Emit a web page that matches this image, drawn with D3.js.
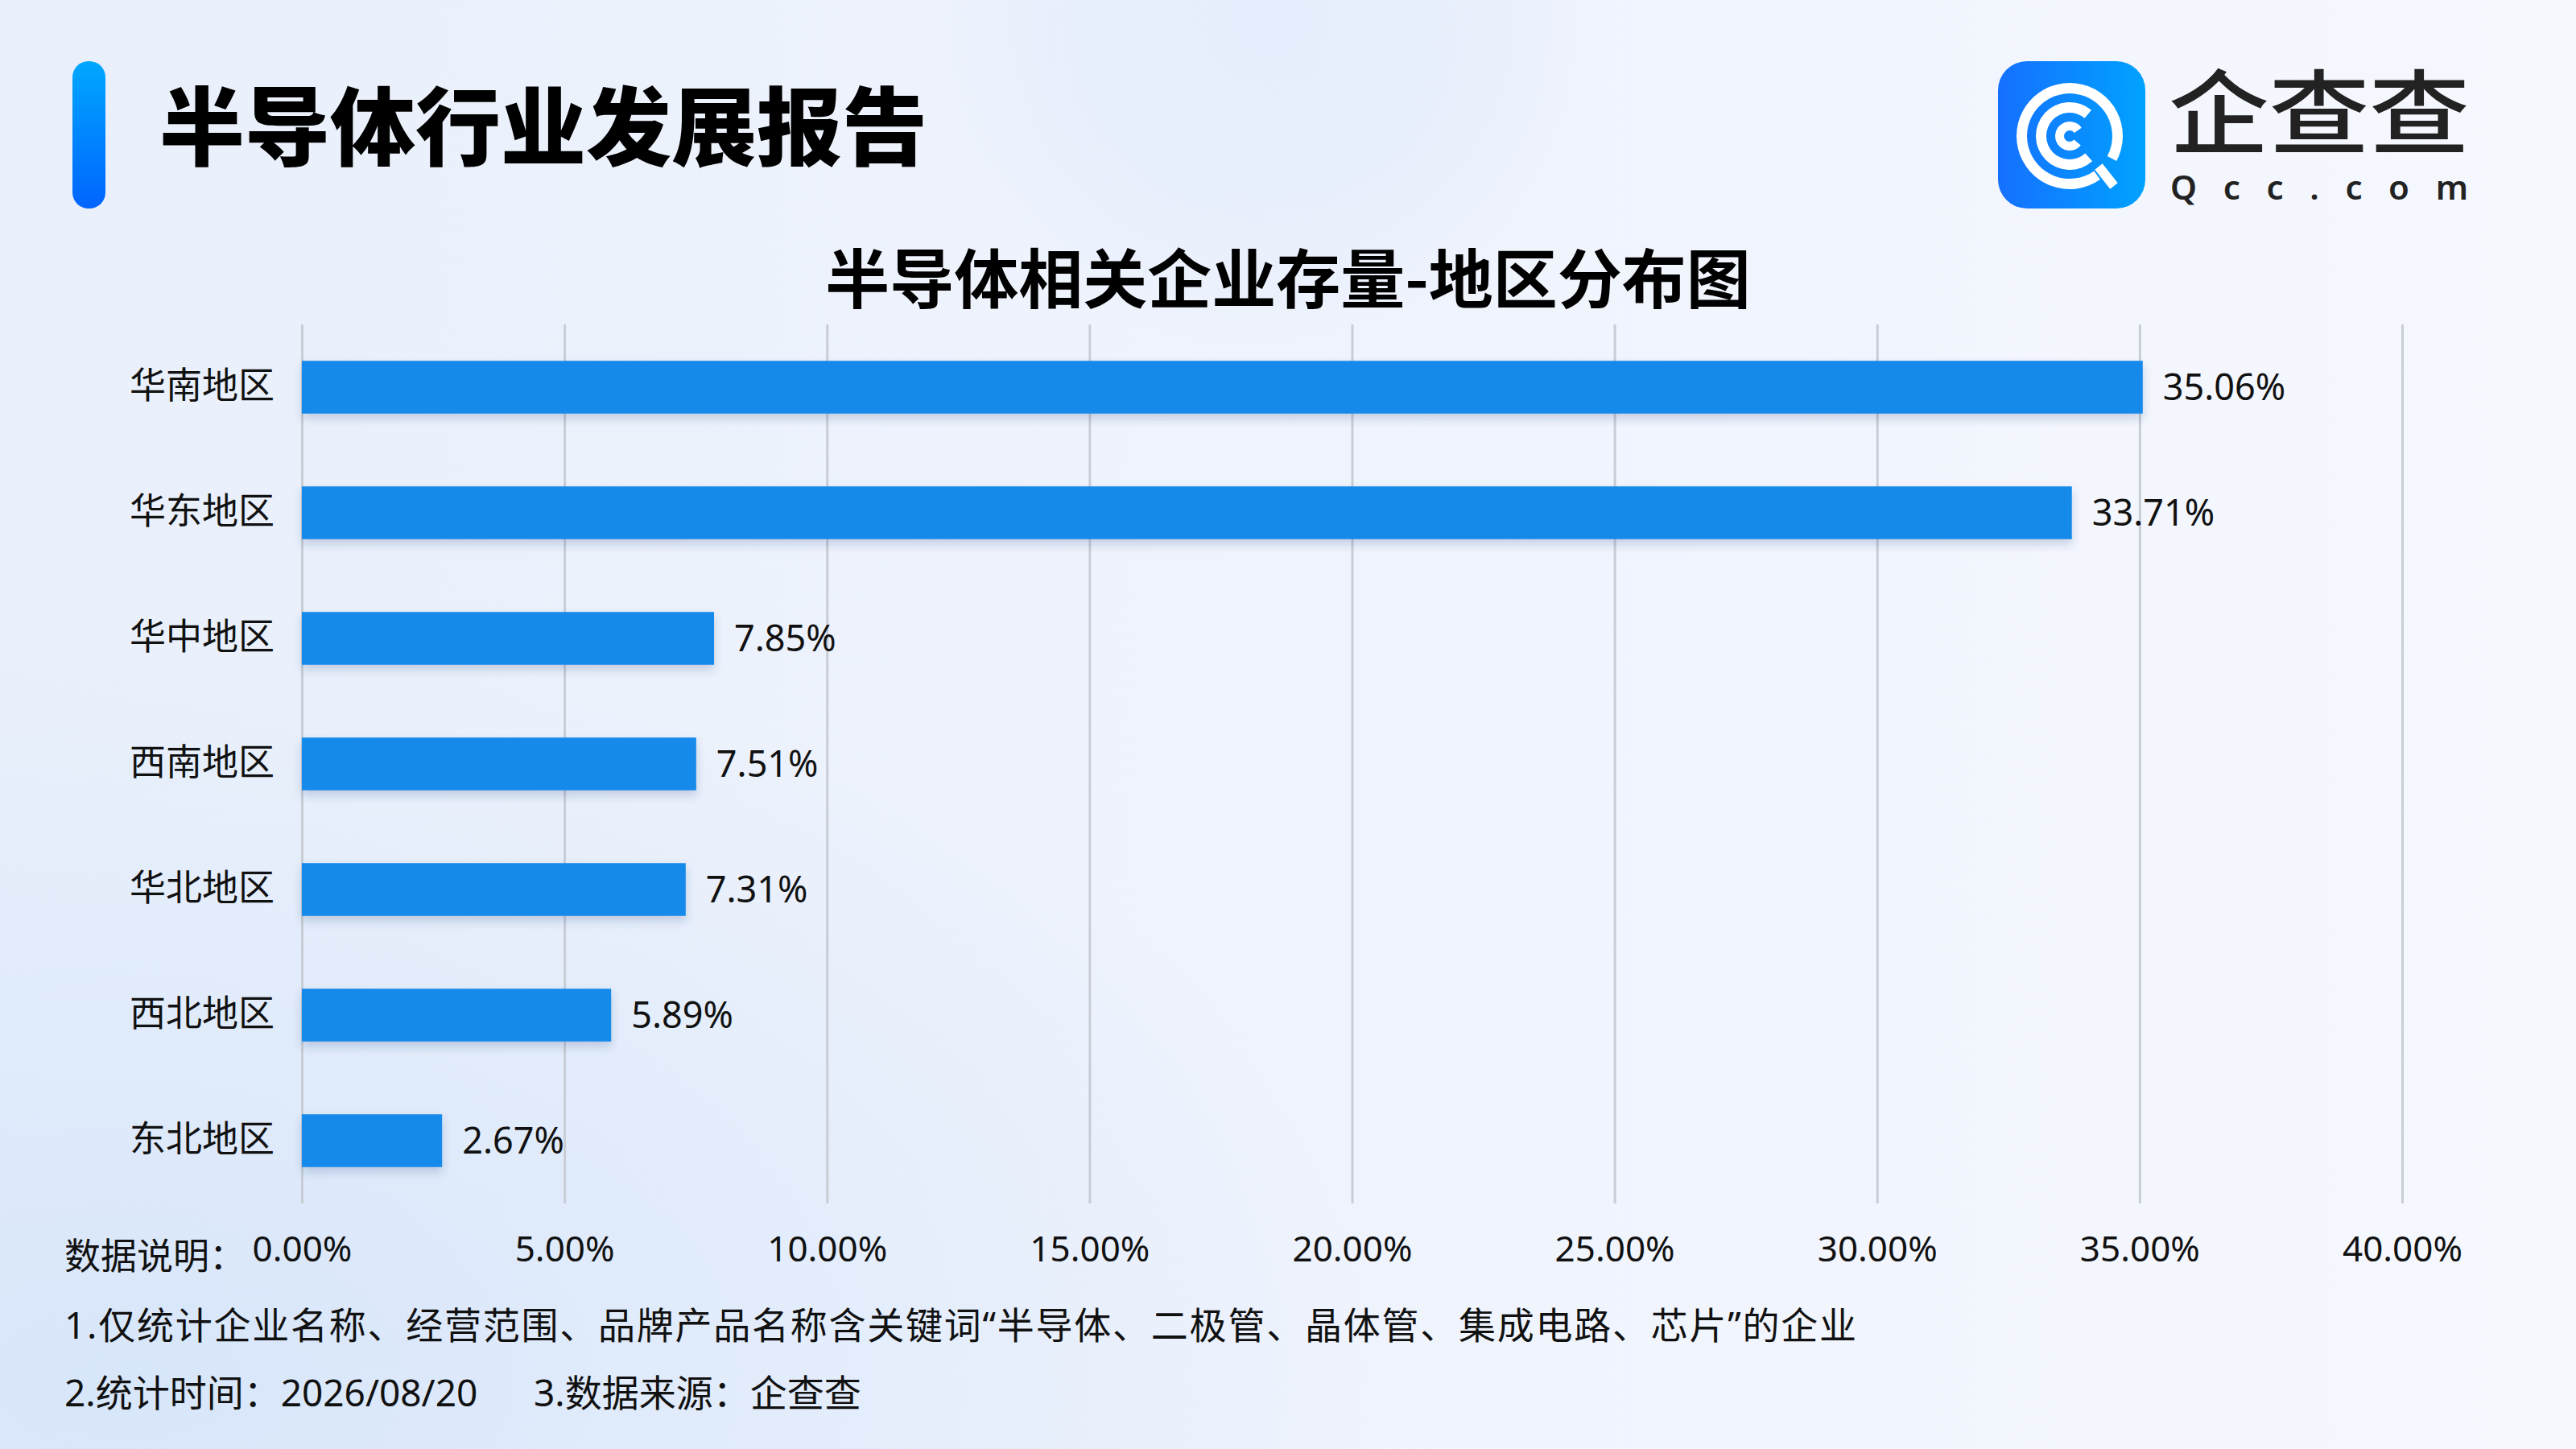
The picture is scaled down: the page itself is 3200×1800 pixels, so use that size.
<!DOCTYPE html>
<html>
<head>
<meta charset="utf-8">
<title>半导体相关企业存量-地区分布图</title>
<style>
  body { margin: 0; padding: 0; background: #eef3fc; }
  svg { display: block; }
  text { font-family: "Noto Sans", "Noto Sans CJK SC", sans-serif; }
</style>
</head>
<body>
<script src="https://cdn.jsdelivr.net/npm/d3@7"></script>
<script>
// data
var regions = ["华南地区", "华东地区", "华中地区", "西南地区", "华北地区", "西北地区", "东北地区"];
var shares = [35.06, 33.71, 7.85, 7.51, 7.31, 5.89, 2.67];
var xTicks = [0, 5, 10, 15, 20, 25, 30, 35, 40];

var mainTitle = "半导体行业发展报告";
var chartTitle = "半导体相关企业存量-地区分布图";
var noteLabel = "数据说明：";
var note1 = "1.仅统计企业名称、经营范围、品牌产品名称含关键词“半导体、二极管、晶体管、集成电路、芯片”的企业";
var note2 = ["2.统计时间：2026/08/20", "3.数据来源：企查查"];

var W = 3200, H = 1800;
var svg = d3.select("body").append("svg")
      .attr("width", W)
      .attr("height", H);

var defs = svg.append("defs");

// background
var bgLin = defs.append("linearGradient").attr("id", "bgLin")
      .attr("x1", 0).attr("y1", 0).attr("x2", 1).attr("y2", 0);
bgLin.append("stop").attr("offset", "0%").attr("stop-color", "#e9f0fb");
bgLin.append("stop").attr("offset", "60%").attr("stop-color", "#f0f4fd");
bgLin.append("stop").attr("offset", "100%").attr("stop-color", "#f6f8fe");

var bgBL = defs.append("radialGradient").attr("id", "bgBL")
      .attr("cx", 0.05).attr("cy", 0.95).attr("r", 0.5);
bgBL.append("stop").attr("offset", "0%").attr("stop-color", "#d6e5fa").attr("stop-opacity", 0.9);
bgBL.append("stop").attr("offset", "100%").attr("stop-color", "#d6e5fa").attr("stop-opacity", 0);

var bgTop = defs.append("radialGradient").attr("id", "bgTop")
      .attr("cx", 0.5).attr("cy", 0.5).attr("r", 0.5);
bgTop.append("stop").attr("offset", "0%").attr("stop-color", "#e3edfc").attr("stop-opacity", 0.9);
bgTop.append("stop").attr("offset", "70%").attr("stop-color", "#e6eefc").attr("stop-opacity", 0.6);
bgTop.append("stop").attr("offset", "100%").attr("stop-color", "#e6eefc").attr("stop-opacity", 0);

svg.append("rect").attr("width", W).attr("height", H).attr("fill", "url(#bgLin)");
svg.append("rect").attr("width", W).attr("height", H).attr("fill", "url(#bgBL)");
svg.append("circle").attr("cx", 1580).attr("cy", 20).attr("r", 420).attr("fill", "url(#bgTop)");

// header: accent bar + title
var accent = defs.append("linearGradient").attr("id", "accent")
      .attr("x1", 0).attr("y1", 0).attr("x2", 0).attr("y2", 1);
accent.append("stop").attr("offset", "0%").attr("stop-color", "#00a8ff");
accent.append("stop").attr("offset", "100%").attr("stop-color", "#0064ff");

svg.append("rect")
    .attr("x", 90).attr("y", 76)
    .attr("width", 41).attr("height", 183)
    .attr("rx", 20)
    .attr("fill", "url(#accent)");

svg.append("text")
    .attr("x", 198).attr("y", 197)
    .style("font-family", "'Noto Sans CJK SC', sans-serif")
    .style("font-weight", 900)
    .style("font-size", "106px")
    .attr("fill", "#000")
    .text(mainTitle);

// logo
var logoG = defs.append("linearGradient").attr("id", "logoG")
      .attr("x1", 0).attr("y1", 0).attr("x2", 1).attr("y2", 0);
logoG.append("stop").attr("offset", "0%").attr("stop-color", "#1570ff");
logoG.append("stop").attr("offset", "100%").attr("stop-color", "#00a2ff");

var logo = svg.append("g");
logo.append("rect")
    .attr("x", 2482).attr("y", 76)
    .attr("width", 183).attr("height", 183)
    .attr("rx", 36)
    .attr("fill", "url(#logoG)");

var icon = logo.append("g").attr("transform", "translate(2571,169)");
var arc = d3.arc();
icon.append("path")
    .attr("d", arc({innerRadius: 53, outerRadius: 66, startAngle: 145 * Math.PI / 180, endAngle: (360 + 118) * Math.PI / 180}))
    .attr("fill", "#fff");
icon.append("path")
    .attr("d", arc({innerRadius: 29, outerRadius: 42, startAngle: 138 * Math.PI / 180, endAngle: (360 + 40) * Math.PI / 180}))
    .attr("fill", "#fff");
icon.append("path")
    .attr("d", arc({innerRadius: 7, outerRadius: 18, startAngle: 130 * Math.PI / 180, endAngle: (360 + 55) * Math.PI / 180}))
    .attr("fill", "#fff");
icon.append("line")
    .attr("x1", 36).attr("y1", 38)
    .attr("x2", 55).attr("y2", 62)
    .attr("stroke", "#fff")
    .attr("stroke-width", 12);

logo.append("text")
    .attr("x", 2694).attr("y", 182)
    .attr("textLength", 374)
    .attr("lengthAdjust", "spacingAndGlyphs")
    .style("font-family", "'Noto Sans CJK SC', sans-serif")
    .style("font-weight", 500)
    .style("font-size", "114px")
    .attr("fill", "#222")
    .text("企查查");

logo.append("text")
    .attr("x", 2696).attr("y", 248)
    .attr("textLength", 370)
    .attr("lengthAdjust", "spacing")
    .style("font-weight", 600)
    .style("font-size", "42px")
    .attr("fill", "#222")
    .text("Qcc.com");

// chart title
svg.append("text")
    .attr("x", 1600).attr("y", 376)
    .attr("text-anchor", "middle")
    .style("font-family", "'Noto Sans CJK SC', sans-serif")
    .style("font-weight", 700)
    .style("font-size", "80px")
    .attr("fill", "#000")
    .text(chartTitle);

// chart
var plotLeft = 375, plotRight = 2984, plotTop = 403, plotBottom = 1495;

var x = d3.scaleLinear()
      .domain([0, 40])
      .range([plotLeft, plotRight]);

var y = d3.scaleBand()
      .domain(regions)
      .range([plotTop, plotBottom])
      .paddingInner(0.58)
      .paddingOuter(0.29);

// grid
svg.append("g")
    .attr("transform", "translate(0," + plotBottom + ")")
    .call(d3.axisBottom(x).tickValues(xTicks).tickSize(-(plotBottom - plotTop)).tickFormat(""))
    .call(function (g) { g.select(".domain").remove(); })
    .call(function (g) {
      g.selectAll("line").attr("stroke", "#c9cdd5").attr("stroke-width", 3);
    });

// x tick labels
svg.append("g")
    .attr("transform", "translate(0," + plotBottom + ")")
    .call(d3.axisBottom(x).tickValues(xTicks).tickSize(0).tickPadding(41)
          .tickFormat(function (d) { return d.toFixed(2) + "%"; }))
    .call(function (g) { g.select(".domain").remove(); })
    .call(function (g) {
      g.selectAll("text")
        .attr("fill", "#111")
        .style("font-family", "'Noto Sans', 'Noto Sans CJK SC', sans-serif")
        .style("font-size", "44px");
    });

// y labels
svg.append("g")
    .attr("transform", "translate(" + plotLeft + ",0)")
    .call(d3.axisLeft(y).tickSize(0).tickPadding(34))
    .call(function (g) { g.select(".domain").remove(); })
    .call(function (g) {
      g.selectAll("text")
        .attr("fill", "#111")
        .style("font-family", "'Noto Sans CJK SC', sans-serif")
        .style("font-size", "45px");
    });

// bars
var shadow = defs.append("filter").attr("id", "barShadow")
      .attr("x", "-5%").attr("y", "-30%").attr("width", "110%").attr("height", "180%");
shadow.append("feDropShadow")
    .attr("dx", 0).attr("dy", 6)
    .attr("stdDeviation", 6)
    .attr("flood-color", "#1c3f80")
    .attr("flood-opacity", 0.22);

var data = regions.map(function (r, i) { return { region: r, value: shares[i] }; });

svg.append("g").selectAll("rect")
    .data(data)
    .enter()
  .append("rect")
    .attr("x", x(0))
    .attr("y", function (d) { return y(d.region); })
    .attr("width", function (d) { return x(d.value) - x(0); })
    .attr("height", y.bandwidth())
    .attr("fill", "#158aea")
    .attr("filter", "url(#barShadow)");

svg.append("g").selectAll("text")
    .data(data)
    .enter()
  .append("text")
    .attr("x", function (d) { return x(d.value) + 25; })
    .attr("y", function (d) { return y(d.region) + y.bandwidth() / 2; })
    .attr("dy", "0.36em")
    .attr("fill", "#111")
    .style("font-size", "45px")
    .text(function (d) { return d.value.toFixed(2) + "%"; });

// notes
var notesG = svg.append("g")
    .style("font-family", "'Noto Sans CJK SC', sans-serif")
    .attr("fill", "#111");

notesG.append("text")
    .attr("x", 80).attr("y", 1577)
    .style("font-size", "45px")
    .text(noteLabel);

notesG.append("text")
    .attr("x", 80).attr("y", 1663)
    .attr("textLength", 2226)
    .attr("lengthAdjust", "spacing")
    .style("font-size", "46px")
    .text(note1);

notesG.selectAll("text.n2")
    .data(note2)
    .enter()
  .append("text")
    .attr("class", "n2")
    .attr("x", function (d, i) { return i === 0 ? 80 : 663; })
    .attr("y", 1747)
    .style("font-size", "46px")
    .text(function (d) { return d; });
</script>
</body>
</html>
